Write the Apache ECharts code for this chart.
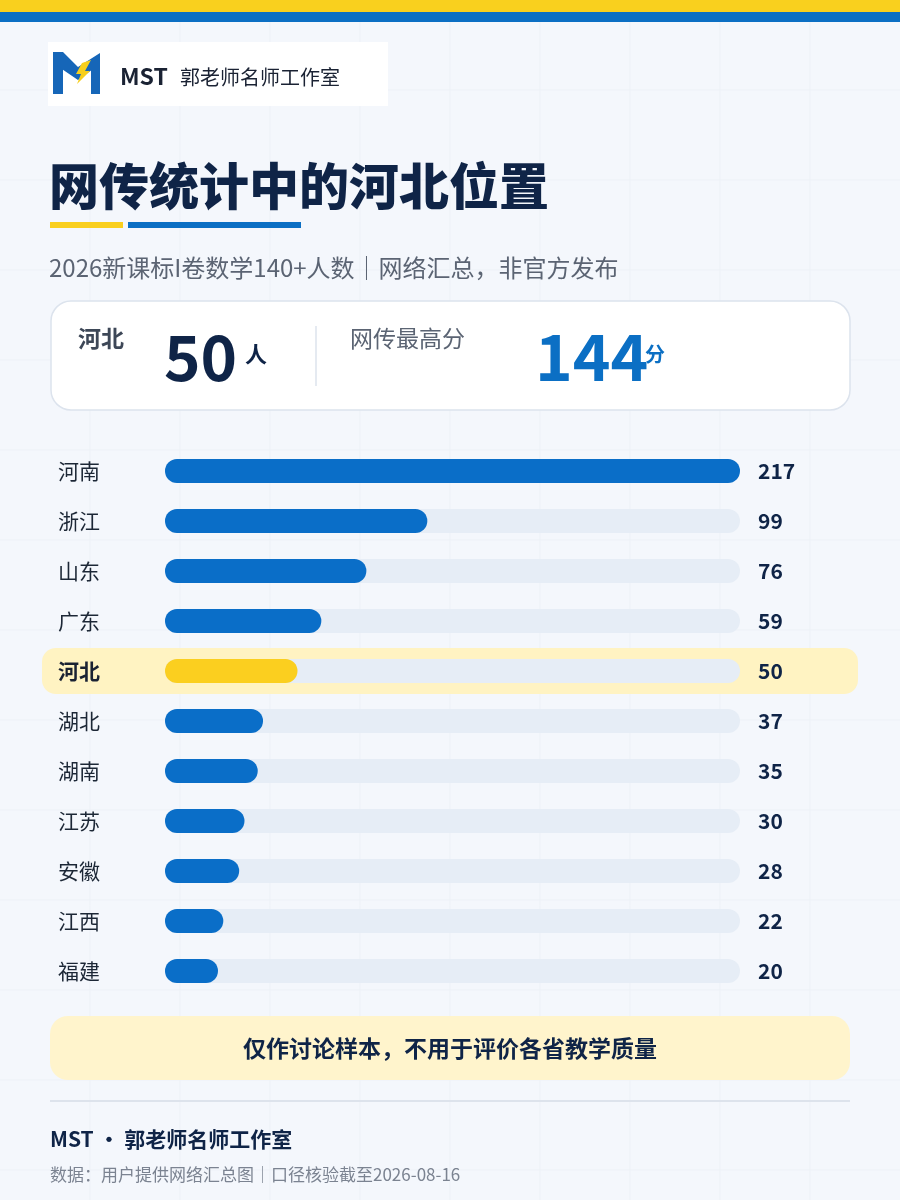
<!DOCTYPE html>
<html><head><meta charset="utf-8">
<script src="https://cdn.jsdelivr.net/npm/echarts@6/dist/echarts.min.js"></script>
<style>html,body{margin:0;padding:0;background:#f4f7fc;}#c{width:900px;height:1200px;}</style>
</head><body><div id="c"></div>
<script>
const categories = ['河南','浙江','山东','广东','河北','湖北','湖南','江苏','安徽','江西','福建'];
const values = [217, 99, 76, 59, 50, 37, 35, 30, 28, 22, 20];
const highlight = '河北';
const highlightCount = 50;
const topScore = 144;
const titleText = '网传统计中的河北位置';
const subtitleText = '2026新课标I卷数学140+人数｜网络汇总，非官方发布';
const noteText = '仅作讨论样本，不用于评价各省教学质量';
const footerBrand = 'MST · 郭老师名师工作室';
const footerSource = '数据：用户提供网络汇总图｜口径核验截至2026-08-16';

const FF = "'Noto Sans CJK SC','Noto Sans',sans-serif";
const NAVY = '#0f2447', BLUE = '#0a6ec8', YEL = '#fbcf1f';

const chart = echarts.init(document.getElementById('c'), null, {renderer:'canvas'});

const bg = [];
for (let k = 1; k < 10; k++) bg.push({type:'line', z:-20, shape:{x1:k*90,y1:22,x2:k*90,y2:1200}, style:{stroke:'#edf1f7',lineWidth:1}});
for (let k = 1; k < 14; k++) bg.push({type:'line', z:-20, shape:{x1:0,y1:k*90,x2:900,y2:k*90}, style:{stroke:'#edf1f7',lineWidth:1}});

function txt(id, text, x, y, size, weight, fill, extra){
  return {type:'text', id:id, z:5, style:Object.assign({text:text, x:x, y:y, fontSize:size, fontWeight:weight, fontFamily:FF, fill:fill, verticalAlign:'middle', align:'left'}, extra||{})};
}

const graphics = bg.concat([
  {type:'rect', z:-5, shape:{x:0,y:0,width:900,height:12}, style:{fill:'#f9d01e'}},
  {type:'rect', z:-5, shape:{x:0,y:12,width:900,height:10}, style:{fill:'#0b6fc4'}},
  // logo box
  {type:'rect', z:-4, shape:{x:48,y:42,width:340,height:64}, style:{fill:'#ffffff'}},
  {type:'rect', z:1, shape:{x:53,y:52,width:10,height:42}, style:{fill:'#1666b8'}},
  {type:'polygon', z:1, shape:{points:[[53,52],[63,52],[78,67],[100,53],[100,64],[78,80],[53,63]]}, style:{fill:'#1666b8'}},
  {type:'rect', z:1, shape:{x:91,y:60,width:9,height:34}, style:{fill:'#1666b8'}},
  {type:'polygon', z:2, shape:{points:[[82,63],[91,60],[85,71],[90,71],[77,84],[81,74],[76,74]]}, style:{fill:'#f7cf1d'}},
  txt('lg1','MST',120,76,23,'bold','#1a2233'),
  txt('lg2','郭老师名师工作室',180,77,20,'normal','#1a2233'),
  // title
  txt('title', titleText, 49, 186, 50, 900, NAVY),
  {type:'rect', shape:{x:50,y:222,width:73,height:6}, style:{fill:'#f9cf1f'}},
  {type:'rect', shape:{x:128,y:222,width:173,height:6}, style:{fill:'#0b6fc4'}},
  txt('sub', subtitleText, 49, 268, 24, 'normal', '#5b6473'),
  // card
  {type:'rect', z:-3, shape:{x:51,y:301,width:799,height:109,r:20}, style:{fill:'#ffffff', stroke:'#dce3ed', lineWidth:1.5}},
  txt('c1', highlight, 78, 338, 23, 'bold', '#3d4757'),
  txt('c2', String(highlightCount), 164, 357, 62, 'bold', NAVY),
  txt('c3', '人', 245, 354, 22, 'bold', NAVY),
  {type:'line', shape:{x1:316,y1:326,x2:316,y2:386}, style:{stroke:'#dde3ec', lineWidth:1.5}},
  txt('c4', '网传最高分', 350, 338, 23, 'normal', '#5b6473'),
  txt('c5', String(topScore), 535, 357, 64, 'bold', '#0b6fc4'),
  txt('c6', '分', 645, 354, 20, 'bold', '#0b6fc4'),
  // note
  {type:'rect', z:-3, shape:{x:50,y:1016,width:800,height:64,r:18}, style:{fill:'#fff4cc'}},
  txt('note', noteText, 450, 1048, 23, 'bold', NAVY, {align:'center'}),
  {type:'line', shape:{x1:50,y1:1101,x2:850,y2:1101}, style:{stroke:'#dde3ec', lineWidth:2}},
  txt('f1', footerBrand, 50, 1139, 21, 'bold', NAVY),
  txt('f2', footerSource, 50, 1175, 17, 'normal', '#7b8391')
]);

const option = {
  backgroundColor: '#f4f7fc',
  animation: false,
  grid: {left:165, right:160, top:446, height:550},
  xAxis: {type:'value', min:0, max:Math.max(...values), show:false},
  yAxis: [
    {type:'category', data:categories, inverse:true,
     axisLine:{show:false}, axisTick:{show:false},
     axisLabel:{align:'left', margin:107, formatter:v => v===highlight ? '{h|'+v+'}' : '{n|'+v+'}',
       rich:{n:{fontSize:21, fontFamily:FF, color:'#1c2736'}, h:{fontSize:21, fontFamily:FF, fontWeight:'bold', color:'#1a2233'}}}},
    {type:'category', data:values.map(String), inverse:true, position:'right',
     axisLine:{show:false}, axisTick:{show:false},
     axisLabel:{align:'left', margin:18, fontSize:21, fontWeight:'bold', fontFamily:FF, color:NAVY}}
  ],
  series: [{
    type:'bar', yAxisIndex:0, barWidth:24, z:3,
    data: values.map((v,i) => ({value:v, itemStyle:{color: categories[i]===highlight ? YEL : BLUE}})),
    itemStyle:{borderRadius:12},
    showBackground:true,
    backgroundStyle:{color:'#e6edf6', borderRadius:12}
  }],
  graphic: {elements: graphics}
};
chart.setOption(option);

const hy = chart.convertToPixel({yAxisIndex:0}, highlight);
chart.setOption({graphic:{elements: graphics.concat([
  {type:'rect', id:'hl', z:-2, shape:{x:42, y:hy-23, width:816, height:46, r:14}, style:{fill:'#fff3c2'}}
])}});
</script></body></html>
